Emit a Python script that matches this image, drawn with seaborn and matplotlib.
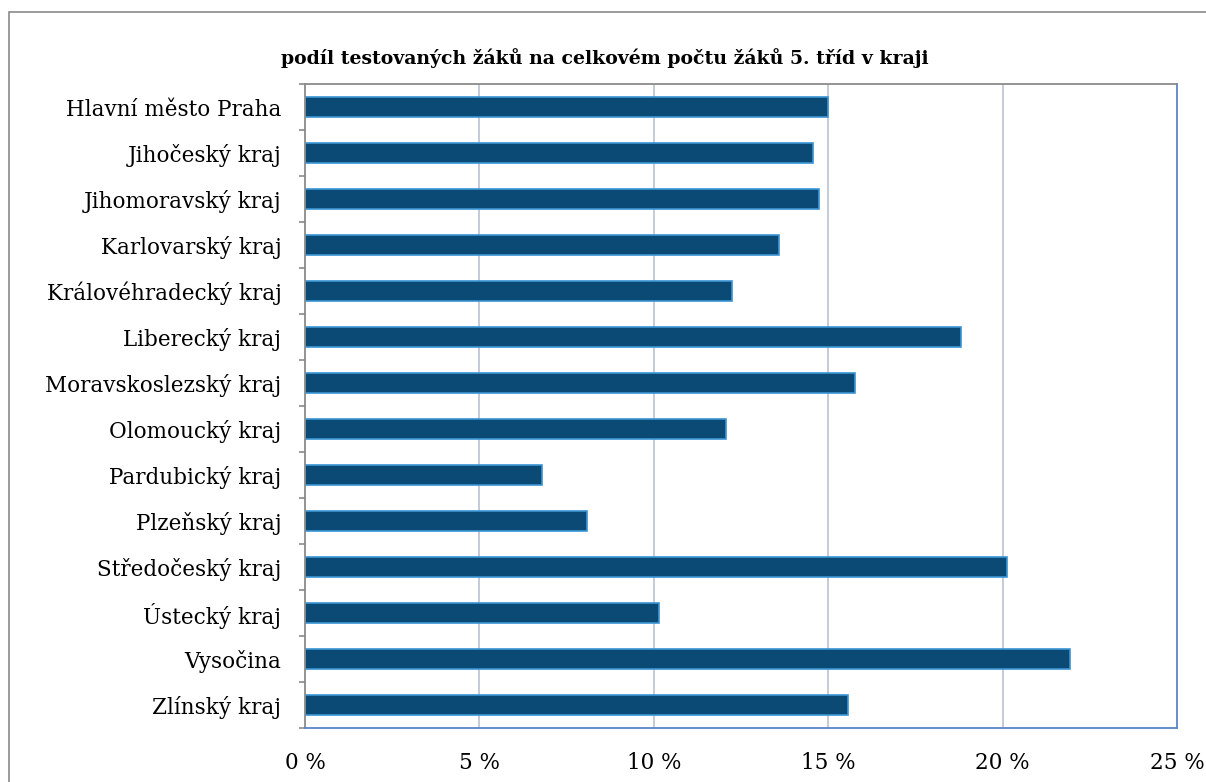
import matplotlib
matplotlib.use("Agg")
import matplotlib.pyplot as plt
import seaborn as sns
import pandas as pd
from matplotlib.patches import Rectangle
from matplotlib.ticker import FixedLocator

regions = ["Hlavní město Praha", "Jihočeský kraj", "Jihomoravský kraj", "Karlovarský kraj",
           "Královéhradecký kraj", "Liberecký kraj", "Moravskoslezský kraj", "Olomoucký kraj",
           "Pardubický kraj", "Plzeňský kraj", "Středočeský kraj", "Ústecký kraj",
           "Vysočina", "Zlínský kraj"]
values = [15.0, 14.55, 14.73, 13.58, 12.24, 18.82, 15.76, 12.07, 6.79, 8.08, 20.12, 10.15, 21.93, 15.58]
xticks = [0, 5, 10, 15, 20, 25]
xticklabels = ["0 %", "5 %", "10 %", "15 %", "20 %", "25 %"]
title = "podíl testovaných žáků na celkovém počtu žáků 5. tříd v kraji"

df = pd.DataFrame({"kraj": regions, "podil": values})

sns.set_theme(style="white")
plt.rcParams['font.family'] = ['DejaVu Serif', 'Liberation Serif']
plt.rcParams['text.color'] = 'black'

W, H = 1206, 782
fig = plt.figure(figsize=(W / 100, H / 100), dpi=100)
ax = fig.add_axes([305 / W, 1 - 728 / H, (1177 - 305) / W, (728 - 84) / H])

sns.barplot(data=df, y="kraj", x="podil", orient="h", ax=ax, width=0.42,
            color="#0B4A75", edgecolor="#3A95D5", linewidth=1.2, saturation=1)

ax.set_xlim(0, 25)
ax.set_ylim(len(regions) - 0.5, -0.5)
ax.set_xticks(xticks)
ax.set_xticklabels(xticklabels, fontsize=15.5)
ax.tick_params(axis="x", length=0, pad=17)
ax.tick_params(axis="y", which="major", length=0, labelsize=15.5, pad=17)
ax.yaxis.set_minor_locator(FixedLocator([i + 0.5 for i in range(-1, len(regions))]))
ax.tick_params(axis="y", which="minor", left=True, length=4, color="#8a8a8a", width=1.2, direction="out")
ax.set_xlabel("")
ax.set_ylabel("")
for lab in ax.get_yticklabels() + ax.get_xticklabels():
    lab.set_color("black")

for x in [5, 10, 15, 20]:
    ax.axvline(x, color="#c0c6d4", linewidth=1.3, zorder=0)

ax.spines["top"].set_color("#8a8a8a")
ax.spines["left"].set_color("#8a8a8a")
ax.spines["right"].set_color("#5b86c8")
ax.spines["bottom"].set_color("#5b86c8")
for s in ax.spines.values():
    s.set_linewidth(1.3)
    s.set_visible(True)

fig.text(605 / W, 1 - 58 / H, title, ha="center", va="center", fontsize=13.6,
         fontweight="bold", color="black")

fig.patches.append(Rectangle((9 / W, -0.01), 1.2, 1 - 12 / H + 0.01, transform=fig.transFigure,
                             fill=False, edgecolor="#8a8a8a", linewidth=1.2))

fig.savefig("out.png", dpi=100)
